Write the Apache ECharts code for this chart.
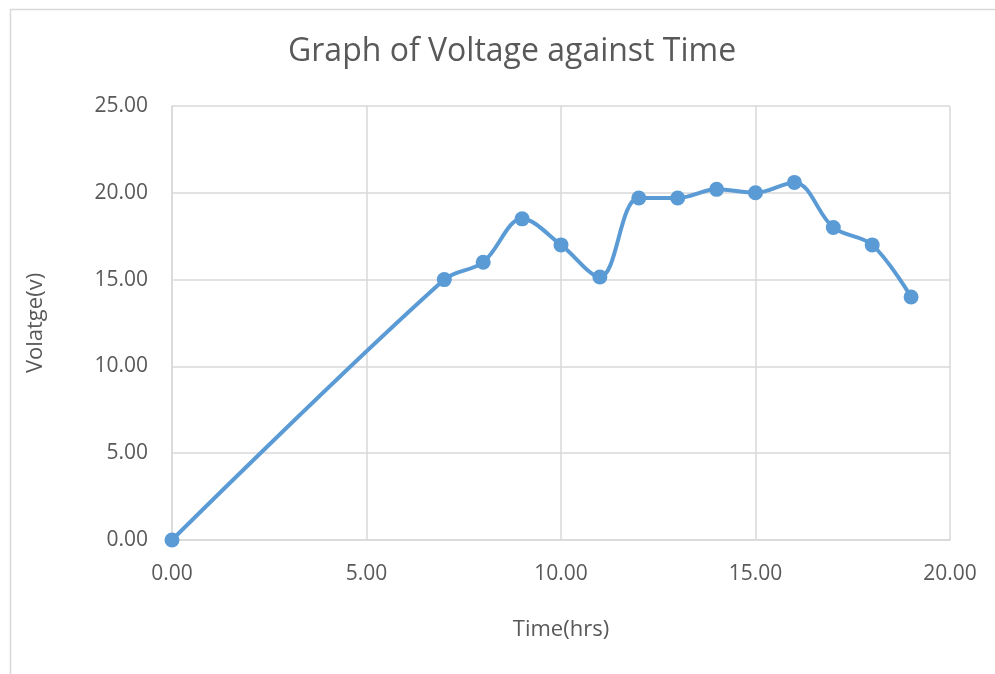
<!DOCTYPE html>
<html>
<head>
<meta charset="utf-8">
<script src="https://cdn.jsdelivr.net/npm/echarts@6/dist/echarts.min.js"></script>
<style>
  html, body { margin: 0; padding: 0; background: #fff; }
  #main { width: 995px; height: 674px; }
</style>
</head>
<body>
<div id="main"></div>
<script>
// data
var timeHrs = [0, 7, 8, 9, 10, 11, 12, 13, 14, 15, 16, 17, 18, 19]
var voltage = [0, 15.0, 16.0, 18.5, 17.0, 15.15, 19.7, 19.7, 20.2, 20.0, 20.6, 18.0, 17.0, 14.0]

var txt = '#595959'
var font = 'Open Sans'

var points = timeHrs.map(function (t, i) { return [t, voltage[i]] })

var myChart = echarts.init(document.getElementById('main'))
var option = {
    animation: false,
    backgroundColor: '#fff',
    graphic: {
        elements: [{
            type: 'rect', left: 8, top: 7,
            shape: { width: 1000, height: 700 },
            style: { fill: 'none', stroke: '#d9d9d9', lineWidth: 1.5 }
        }]
    },
    title: {
        text: 'Graph of Voltage against Time',
        left: 283, top: 31,
        textStyle: { color: txt, fontFamily: font, fontSize: 32, fontWeight: 'normal' }
    },
    grid: { left: 172, right: 45, top: 106, bottom: 134 },
    xAxis: {
        type: 'value', min: 0, max: 20, interval: 5,
        name: 'Time(hrs)', nameLocation: 'middle', nameGap: 79,
        nameTextStyle: { color: txt, fontFamily: font, fontSize: 22 },
        axisLine: { show: true, lineStyle: { color: '#d9d9d9', width: 1.5 } },
        axisTick: { show: false },
        splitLine: { show: true, lineStyle: { color: '#d9d9d9', width: 1.5 } },
        axisLabel: {
            color: txt, fontFamily: font, fontSize: 21, margin: 24,
            formatter: function (v) { return v.toFixed(2) }
        }
    },
    yAxis: {
        type: 'value', min: 0, max: 25, interval: 5,
        name: 'Volatge(v)', nameLocation: 'middle', nameGap: 125,
        nameTextStyle: { color: txt, fontFamily: font, fontSize: 22 },
        axisLine: { show: true, lineStyle: { color: '#d9d9d9', width: 1.5 } },
        axisTick: { show: false },
        splitLine: { show: true, lineStyle: { color: '#d9d9d9', width: 1.5 } },
        axisLabel: {
            color: txt, fontFamily: font, fontSize: 21, margin: 24,
            formatter: function (v) { return v.toFixed(2) }
        }
    },
    series: [{
        type: 'line',
        data: points,
        smooth: 0.35,
        symbol: 'circle',
        symbolSize: 15,
        lineStyle: { color: '#5b9bd5', width: 4 },
        itemStyle: { color: '#5b9bd5' }
    }]
}
myChart.setOption(option)
</script>
</body>
</html>
